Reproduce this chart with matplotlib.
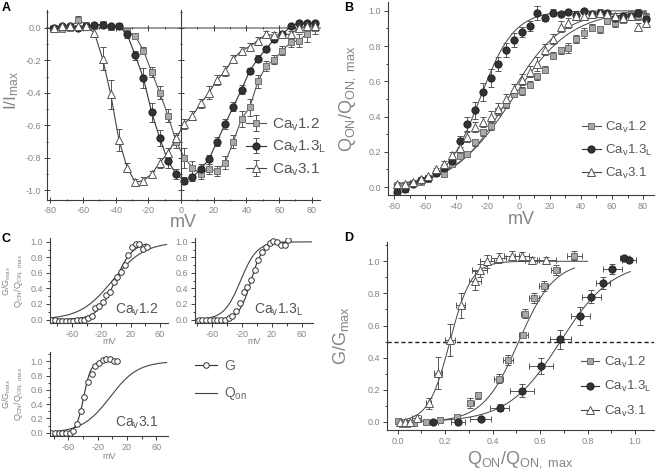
import numpy as np
import matplotlib
matplotlib.use('Agg')
import matplotlib.pyplot as plt
from matplotlib.lines import Line2D
from matplotlib.ticker import MultipleLocator, FixedLocator

plt.rcParams['font.family'] = ['Liberation Sans', 'DejaVu Sans']
plt.rcParams['mathtext.fontset'] = 'custom'
plt.rcParams['mathtext.rm'] = 'Liberation Sans'
plt.rcParams['mathtext.it'] = 'Liberation Sans:italic'
plt.rcParams['axes.unicode_minus'] = False

GRAY = '#858585'
DARK = '#3c3c3c'

lab12 = r'Ca$_\mathrm{v}$1.2'
lab13 = r'Ca$_\mathrm{v}$1.3$_\mathrm{L}$'
lab31 = r'Ca$_\mathrm{v}$3.1'

# ---- panel A: I-V ----
v_iv = [-78, -73, -68, -63, -58, -53, -48, -43, -38, -33, -28, -23, -18, -13, -8, -3,
        2, 7, 12, 17, 22, 27, 32, 37, 42, 47, 52, 57, 62, 67, 72, 77, 82]
i12 = [0.0, -0.01, 0.0, 0.05, 0.02, 0.01, 0.025, 0.005, 0.01, -0.02, -0.05, -0.14, -0.27,
       -0.40, -0.54, -0.70, -0.80, -0.86, -0.90, -0.87, -0.88, -0.83, -0.70, -0.56, -0.49,
       -0.33, -0.235, -0.195, -0.14, -0.09, -0.078, -0.037, 0.0]
e12 = [0.01, 0.01, 0.01, 0.02, 0.01, 0.01, 0.01, 0.01, 0.01, 0.02, 0.02, 0.02, 0.03, 0.04,
       0.04, 0.04, 0.06, 0.04, 0.03, 0.03, 0.03, 0.04, 0.04, 0.05, 0.05, 0.04, 0.03, 0.03,
       0.03, 0.03, 0.04, 0.05, 0.04]
i13 = [0.0, 0.01, 0.01, 0.0, 0.01, 0.015, 0.02, 0.01, 0.01, -0.04, -0.17, -0.31, -0.52,
       -0.68, -0.82, -0.90, -0.94, -0.92, -0.87, -0.81, -0.70, -0.59, -0.485, -0.38, -0.265,
       -0.19, -0.13, -0.07, -0.04, 0.01, 0.03, 0.03, 0.03]
e13 = [0.01, 0.01, 0.01, 0.01, 0.01, 0.01, 0.01, 0.01, 0.01, 0.02, 0.03, 0.06, 0.06, 0.05,
       0.04, 0.03, 0.02, 0.02, 0.03, 0.03, 0.03, 0.03, 0.03, 0.03, 0.02, 0.02, 0.02, 0.02,
       0.02, 0.01, 0.01, 0.01, 0.01]
i31 = [0.0, 0.01, 0.01, 0.01, 0.01, -0.03, -0.19, -0.41, -0.69, -0.86, -0.95, -0.94, -0.90,
       -0.83, -0.77, -0.68, -0.59, -0.54, -0.465, -0.40, -0.32, -0.265, -0.19, -0.14, -0.115,
       -0.078, -0.04, -0.047, -0.04, -0.04, 0.0, 0.01, 0.01]
e31 = [0.01, 0.01, 0.01, 0.01, 0.01, 0.02, 0.07, 0.09, 0.07, 0.03, 0.02, 0.02, 0.02, 0.03,
       0.03, 0.03, 0.03, 0.03, 0.03, 0.04, 0.03, 0.03, 0.02, 0.02, 0.02, 0.02, 0.02, 0.02,
       0.02, 0.02, 0.02, 0.02, 0.02]

# ---- panel B: Q-V ----
q12 = [-0.02, -0.01, 0.025, 0.03, 0.045, 0.08, 0.075, 0.13, 0.175, 0.19, 0.255, 0.31, 0.345,
       0.43, 0.47, 0.53, 0.545, 0.58, 0.63, 0.665, 0.745, 0.775, 0.79, 0.84, 0.875, 0.905,
       0.895, 0.945, 0.93, 0.95, 0.98, 0.97, 0.965]
q13 = [-0.03, -0.01, 0.02, 0.04, 0.05, 0.08, 0.11, 0.15, 0.26, 0.36, 0.435, 0.54, 0.62,
       0.70, 0.78, 0.835, 0.88, 0.915, 0.99, 0.96, 0.99, 0.98, 0.995, 0.975, 1.0, 0.98,
       0.985, 0.99, 0.96, 0.97, 0.97, 0.99, 0.955]
q31 = [0.02, 0.02, 0.03, 0.045, 0.06, 0.10, 0.13, 0.18, 0.22, 0.285, 0.34, 0.37, 0.40,
       0.445, 0.50, 0.555, 0.61, 0.655, 0.70, 0.78, 0.84, 0.91, 0.93, 0.97, 0.97, 0.98,
       0.99, 0.98, 0.97, 0.96, 0.97, 0.91, 0.93]
qe12 = [0.01, 0.01, 0.01, 0.01, 0.01, 0.01, 0.01, 0.01, 0.01, 0.01, 0.02, 0.02, 0.02, 0.02,
        0.02, 0.02, 0.02, 0.02, 0.02, 0.02, 0.02, 0.02, 0.03, 0.02, 0.03, 0.02, 0.02, 0.02,
        0.02, 0.02, 0.02, 0.02, 0.02]
qe13 = [0.01, 0.01, 0.01, 0.01, 0.01, 0.01, 0.02, 0.02, 0.03, 0.04, 0.05, 0.05, 0.05, 0.04,
        0.04, 0.04, 0.03, 0.03, 0.04, 0.02, 0.02, 0.01, 0.01, 0.01, 0.01, 0.01, 0.01, 0.01,
        0.01, 0.01, 0.01, 0.02, 0.02]
qe31 = [0.01, 0.01, 0.01, 0.01, 0.01, 0.01, 0.02, 0.02, 0.03, 0.03, 0.03, 0.03, 0.03, 0.03,
        0.03, 0.03, 0.03, 0.03, 0.04, 0.03, 0.03, 0.03, 0.03, 0.02, 0.02, 0.02, 0.02, 0.02,
        0.02, 0.02, 0.02, 0.02, 0.02]
# Boltzmann fits (V half, slope factor)
qfit12 = [-4, 19]
qfit13 = [-25, 11]
qfit31 = [-7, 17]

# ---- panel C: G-V with Q-V curves ----
vc12 = [-88, -83, -78, -73, -68, -63, -58, -53, -48, -43, -38, -33, -28, -23, -18, -13, -8,
        -3, 2, 7, 12, 17, 22, 27, 32, 37, 42]
gc12 = [-0.01, 0.0, -0.02, -0.02, -0.02, -0.02, -0.02, -0.01, -0.01, 0.0, 0.02, 0.05, 0.15,
        0.17, 0.23, 0.31, 0.36, 0.48, 0.55, 0.61, 0.70, 0.83, 0.94, 0.97, 0.97, 0.91, 0.93]
vc13 = [-78, -73, -68, -63, -58, -53, -48, -43, -38, -33, -28, -23, -18, -13, -8, -3, 2, 7,
        12, 17, 22, 27, 32, 37, 42]
gc13 = [0.0, 0.0, 0.0, 0.0, -0.01, -0.01, -0.01, 0.0, 0.02, 0.05, 0.11, 0.21, 0.35, 0.42,
        0.51, 0.64, 0.77, 0.87, 0.94, 0.99, 1.01, 1.0, 0.96, 0.96, 1.02]
vc31 = [-83, -78, -73, -68, -63, -58, -53, -48, -43, -38, -33, -28, -23, -18, -13, -8, -3,
        2, 7]
gc31 = [0.0, 0.0, -0.01, -0.01, -0.01, 0.0, 0.03, 0.12, 0.30, 0.50, 0.71, 0.82, 0.93, 0.98,
        1.02, 1.03, 1.03, 1.0, 1.0]
gfit12 = [-1, 12]
gfit13 = [-8, 8]
gfit31 = [-39, 5]
cq12 = [-5, 22]
cq13 = [-22, 11]
cq31 = [-3, 19]

# ---- panel D: G vs Q ----
d12_q = [0.0, 0.02, 0.04, 0.07, 0.12, 0.18, 0.25, 0.305, 0.34, 0.425, 0.465, 0.53, 0.535,
         0.575, 0.615, 0.665, 0.745]
d12_g = [0.005, -0.01, -0.01, -0.005, 0.0, 0.01, 0.03, 0.12, 0.165, 0.27, 0.385, 0.54, 0.675,
         0.77, 0.845, 0.945, 1.035]
d12_qe = [0.01, 0.01, 0.01, 0.01, 0.01, 0.01, 0.01, 0.015, 0.01, 0.02, 0.02, 0.02, 0.015,
          0.02, 0.02, 0.02, 0.03]
d12_ge = [0.01, 0.01, 0.01, 0.01, 0.01, 0.01, 0.02, 0.03, 0.02, 0.03, 0.03, 0.02, 0.03, 0.03,
          0.03, 0.03, 0.03]
d13_q = [0.15, 0.255, 0.35, 0.43, 0.525, 0.605, 0.685, 0.77, 0.815, 0.865, 0.905, 0.955, 0.975]
d13_g = [0.0, 0.0, 0.02, 0.09, 0.195, 0.35, 0.515, 0.66, 0.78, 0.865, 0.95, 1.02, 1.01]
d13_qe = [0.02, 0.03, 0.045, 0.04, 0.05, 0.05, 0.045, 0.04, 0.04, 0.03, 0.04, 0.02, 0.03]
d13_ge = [0.01, 0.01, 0.01, 0.02, 0.04, 0.05, 0.06, 0.055, 0.04, 0.04, 0.03, 0.01, 0.01]
d31_q = [0.01, 0.03, 0.05, 0.08, 0.13, 0.17, 0.22, 0.265, 0.325, 0.345, 0.375, 0.425, 0.48,
         0.525, 0.565, 0.625]
d31_g = [0.0, 0.0, 0.0, 0.025, 0.115, 0.305, 0.51, 0.725, 0.88, 0.945, 1.0, 1.02, 1.035,
         1.035, 1.005, 1.005]
d31_qe = [0.01, 0.01, 0.01, 0.02, 0.01, 0.015, 0.02, 0.02, 0.025, 0.03, 0.03, 0.03, 0.03,
          0.03, 0.03, 0.04]
d31_ge = [0.005, 0.005, 0.01, 0.02, 0.035, 0.1, 0.1, 0.08, 0.06, 0.04, 0.04, 0.03, 0.03,
          0.02, 0.02, 0.02]
dfit12 = [0.51, 0.075, 0.745]
dfit13 = [0.685, 0.11, 0.98]
dfit31 = [0.22, 0.045, 0.80]


def boltz(x, xh, k):
    return 1.0 / (1.0 + np.exp((xh - x) / k))


def style(ax, fs=6.5):
    for s in ['top', 'right']:
        ax.spines[s].set_visible(False)
    for s in ['left', 'bottom']:
        ax.spines[s].set_color(DARK)
        ax.spines[s].set_linewidth(0.8)
    ax.tick_params(which='both', colors=DARK, labelcolor=GRAY, labelsize=fs,
                   direction='out', width=0.7)
    ax.tick_params(which='major', length=3, pad=2)
    ax.tick_params(which='minor', length=1.8)


W, H = 656, 471


def box(l, t, r, b):
    return [l / W, 1 - b / H, (r - l) / W, (b - t) / H]


sq = dict(marker='s', ms=5, mfc='#a8a8a8', mec='#707070', mew=0.7)
ci = dict(marker='o', ms=5.2, mfc='#333333', mec='#222222', mew=0.7)
tr = dict(marker='^', ms=5.5, mfc='white', mec='#555555', mew=0.7)
eb = dict(ecolor='#555555', elinewidth=0.7, capsize=2, capthick=0.7)

fig = plt.figure(figsize=(6.56, 4.71), dpi=100)

# ---------- A ----------
axA = fig.add_axes(box(47, 10, 320, 200))
style(axA)
axA.errorbar(v_iv, i12, yerr=e12, color='#555555', lw=0.8, label=lab12, **sq, **eb)
axA.errorbar(v_iv, i13, yerr=e13, color='#333333', lw=0.8, label=lab13, **ci, **eb)
axA.errorbar(v_iv, i31, yerr=e31, color='#444444', lw=0.8, label=lab31, **tr, **eb)
axA.set_xlim(-82, 85)
axA.set_ylim(-1.06, 0.11)
axA.spines['top'].set_visible(True)
axA.spines['top'].set_position(('data', 0))
axA.spines['top'].set_color('#9a9a9a')
axA.spines['top'].set_linewidth(1.4)
axA.spines['top'].set_zorder(0.5)
axA.spines['right'].set_visible(True)
axA.spines['right'].set_position(('data', 0))
axA.spines['right'].set_color(DARK)
axA.spines['right'].set_linewidth(0.8)
axA.tick_params(which='both', top=True, right=True, labeltop=False, labelright=False,
                direction='inout')
axA.tick_params(which='major', length=4)
axA.xaxis.set_major_locator(MultipleLocator(20))
axA.xaxis.set_minor_locator(MultipleLocator(10))
axA.yaxis.set_minor_locator(MultipleLocator(0.1))
axA.set_yticks([-1.0, -0.8, -0.6, -0.4, -0.2, 0.0])
axA.set_xlabel('mV', fontsize=13, color=GRAY)
axA.xaxis.set_label_coords(0.5, -0.072)
axA.set_ylabel(r'I/I$_\mathrm{max}$', fontsize=12.5, color=GRAY)
axA.yaxis.set_label_coords(-0.095, 0.58)
axA.legend(loc='upper left', bbox_to_anchor=(0.73, 0.44), frameon=False, fontsize=11,
           labelcolor='#555555', borderpad=0, borderaxespad=0, handlelength=1.3,
           handletextpad=0.4, labelspacing=0.4)

# ---------- B ----------
axB = fig.add_axes(box(388, 2, 654, 195))
style(axB)
xs = np.linspace(-80, 82, 200)
for fit in (qfit12, qfit13, qfit31):
    axB.plot(xs, boltz(xs, *fit), color='#444444', lw=0.7, zorder=1)
axB.errorbar(v_iv, q12, yerr=qe12, ls='none', label=lab12, **sq, **eb)
axB.errorbar(v_iv, q13, yerr=qe13, ls='none', label=lab13, **ci, **eb)
axB.errorbar(v_iv, q31, yerr=qe31, ls='none', label=lab31, **tr, **eb)
axB.set_xlim(-84, 87)
axB.set_ylim(-0.045, 1.05)
axB.xaxis.set_major_locator(MultipleLocator(20))
axB.xaxis.set_minor_locator(MultipleLocator(10))
axB.yaxis.set_major_locator(MultipleLocator(0.2))
axB.yaxis.set_minor_locator(MultipleLocator(0.1))
axB.set_xlabel('mV', fontsize=13, color=GRAY)
axB.xaxis.set_label_coords(0.5, -0.085)
axB.set_ylabel(r'Q$_\mathrm{ON}$/Q$_\mathrm{ON,\ max}$', fontsize=13, color=GRAY)
axB.yaxis.set_label_coords(-0.112, 0.5)
hB = [Line2D([], [], color='#555555', lw=0.8, **sq),
      Line2D([], [], color='#333333', lw=0.8, **ci),
      Line2D([], [], color='#444444', lw=0.8, **tr)]
axB.legend(hB, [lab12, lab13, lab31], loc='upper left', bbox_to_anchor=(0.73, 0.39),
           frameon=False, fontsize=9.5, labelcolor='#555555', borderpad=0, borderaxespad=0,
           handlelength=1.4, handletextpad=0.35, labelspacing=0.6)

# ---------- C ----------
cmk = dict(marker='o', ms=4, mfc='white', mec='#333333', mew=0.7)


def panel_c(rect, xlim, ylim, v, g, gfit, qfit, name):
    ax = fig.add_axes(rect)
    style(ax)
    xx = np.linspace(xlim[0] + 2, xlim[1] - 2, 200)
    ax.plot(xx, boltz(xx, *qfit), color='#444444', lw=0.8)
    vv = np.linspace(v[0], v[-1], 150)
    ax.plot(vv, boltz(vv, *gfit), color='#333333', lw=0.8)
    ax.plot(v, g, ls='none', **cmk)
    ax.set_xlim(*xlim)
    ax.set_ylim(*ylim)
    ax.xaxis.set_major_locator(FixedLocator([-60, -20, 20, 60]))
    ax.xaxis.set_minor_locator(FixedLocator([-80, -40, 0, 40]))
    ax.set_yticks([0.0, 0.2, 0.4, 0.6, 0.8, 1.0])
    ax.yaxis.set_minor_locator(MultipleLocator(0.1))
    ax.set_xlabel('mV', fontsize=6.5, color=GRAY)
    ax.text(0.92, 0.11, name, transform=ax.transAxes, ha='right', va='baseline',
            fontsize=10, color='#555555')
    return ax


c1 = panel_c(box(50, 238, 168, 323), (-90, 71), (-0.045, 1.05), vc12, gc12, gfit12, cq12, lab12)
c2 = panel_c(box(195, 238, 313, 323), (-83, 75), (-0.045, 1.05), vc13, gc13, gfit13, cq13, lab13)
c3 = panel_c(box(50, 352, 168, 436), (-85, 76), (-0.046, 1.13), vc31, gc31, gfit31, cq31, lab31)
c1.xaxis.set_label_coords(0.5, -0.17)
c2.xaxis.set_label_coords(0.5, -0.17)
c3.xaxis.set_label_coords(0.5, -0.19)
for ax in (c1, c3):
    ax.set_ylabel('G/G$_\\mathrm{max}$\nQ$_\\mathrm{ON}$/Q$_\\mathrm{ON,\\ max}$',
                  fontsize=6.5, color=GRAY, linespacing=1.0)
    ax.yaxis.set_label_coords(-0.21, 0.5)

hC = [Line2D([], [], color='#333333', lw=0.8, **cmk),
      Line2D([], [], color='#444444', lw=0.8)]
fig.legend(hC, ['G', r'Q$_\mathrm{on}$'], loc='upper left', bbox_to_anchor=(195 / W, 1 - 359 / H),
           frameon=False, fontsize=10, labelcolor='#666666', borderpad=0, borderaxespad=0,
           handlelength=1.6, handletextpad=0.5, labelspacing=0.9)

# ---------- D ----------
axD = fig.add_axes(box(387, 242, 654, 430))
style(axD)
for fit in (dfit12, dfit13, dfit31):
    qq = np.linspace(0.0, fit[2], 200)
    axD.plot(qq, boltz(qq, fit[0], fit[1]), color='#444444', lw=0.7, zorder=1)
axD.axhline(0.5, color='#222222', lw=1.0, ls=(0, (3, 2)))
axD.errorbar(d12_q, d12_g, xerr=d12_qe, yerr=d12_ge, ls='none', **sq, **eb)
axD.errorbar(d13_q, d13_g, xerr=d13_qe, yerr=d13_ge, ls='none', **ci, **eb)
axD.errorbar(d31_q, d31_g, xerr=d31_qe, yerr=d31_ge, ls='none', **tr, **eb)
axD.set_xlim(-0.045, 1.08)
axD.set_ylim(-0.05, 1.12)
axD.xaxis.set_major_locator(MultipleLocator(0.2))
axD.xaxis.set_minor_locator(MultipleLocator(0.1))
axD.yaxis.set_minor_locator(MultipleLocator(0.1))
axD.set_yticks([0.0, 0.2, 0.4, 0.6, 0.8, 1.0])
axD.set_xlabel(r'Q$_\mathrm{ON}$/Q$_\mathrm{ON,\ max}$', fontsize=13, color=GRAY)
axD.xaxis.set_label_coords(0.5, -0.1)
axD.set_ylabel(r'G/G$_\mathrm{max}$', fontsize=13, color=GRAY)
axD.yaxis.set_label_coords(-0.135, 0.5)
axD.legend(hB, [lab12, lab13, lab31], loc='upper left', bbox_to_anchor=(0.725, 0.40),
           frameon=False, fontsize=9.5, labelcolor='#555555', borderpad=0, borderaxespad=0,
           handlelength=1.4, handletextpad=0.35, labelspacing=0.7)

for x, y, s in [(2, 2, 'A'), (344, 2, 'B'), (2, 233, 'C'), (344, 232, 'D')]:
    fig.text(x / W, 1 - y / H, s, fontsize=9, fontweight='bold', va='top', ha='left')

fig.savefig('out.png', dpi=100)
